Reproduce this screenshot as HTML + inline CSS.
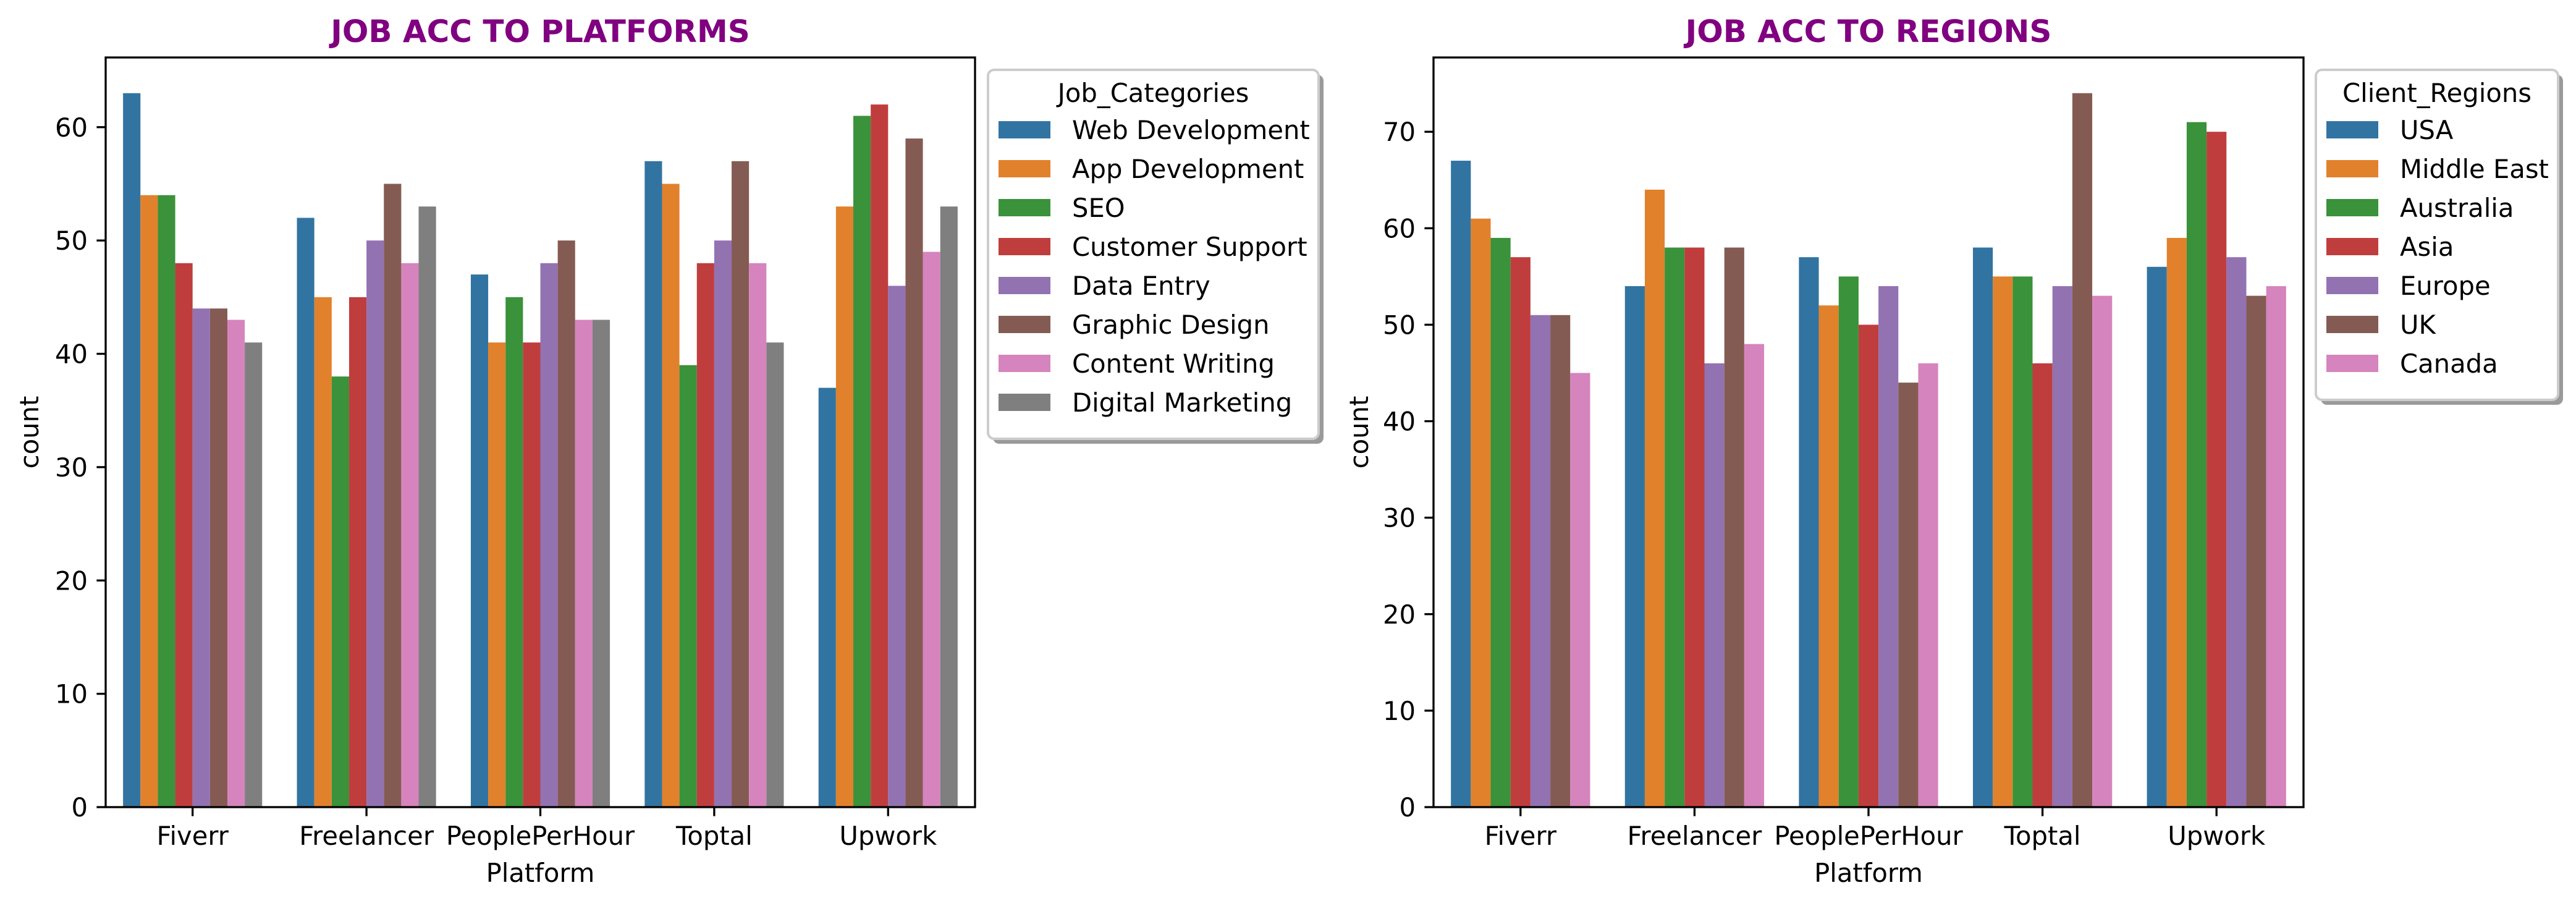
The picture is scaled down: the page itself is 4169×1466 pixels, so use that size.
<!DOCTYPE html>
<html><head><meta charset="utf-8"><style>
html,body{margin:0;padding:0;background:#fff;}
svg{display:block;font-family:"DejaVu Sans","Liberation Sans",sans-serif;}
</style></head><body>
<svg id="fig" width="4169" height="1466" viewBox="0 0 4169 1466" xmlns="http://www.w3.org/2000/svg">
<rect width="4169" height="1466" fill="#fff"/>
</svg>
<script>
const platforms = ["Fiverr","Freelancer","PeoplePerHour","Toptal","Upwork"];
const jobCategories = ["Web Development","App Development","SEO","Customer Support","Data Entry","Graphic Design","Content Writing","Digital Marketing"];
const jobWeb = [63,52,47,57,37];
const jobApp = [54,45,41,55,53];
const jobSEO = [54,38,45,39,61];
const jobSupport = [48,45,41,48,62];
const jobData = [44,50,48,50,46];
const jobGraphic = [44,55,50,57,59];
const jobContent = [43,48,43,48,49];
const jobDigital = [41,53,43,41,53];
const regions = ["USA","Middle East","Australia","Asia","Europe","UK","Canada"];
const regUSA = [67,54,57,58,56];
const regME = [61,64,52,55,59];
const regAus = [59,58,55,55,71];
const regAsia = [57,58,50,46,70];
const regEurope = [51,46,54,54,57];
const regUK = [51,58,44,74,53];
const regCanada = [45,48,46,53,54];
const leftTicks = [0,10,20,30,40,50,60];
const rightTicks = [0,10,20,30,40,50,60,70];
const palette = ["#3274a1","#e1812c","#3a923a","#c03d3e","#9372b2","#845b53","#d684bd","#7f7f7f"];

const NS = "http://www.w3.org/2000/svg";
const svg = document.getElementById("fig");
function mk(tag, attrs, parent){ const e=document.createElementNS(NS,tag); for(const k in attrs) e.setAttribute(k,attrs[k]); (parent||svg).appendChild(e); return e; }

function drawChart(cfg){
  const g = mk("g",{});
  
  
  const L=cfg.x0, R=cfg.x1, T=93, B=1306;
  const xs = v => L + (v+0.5)/5*(R-L);
  const ys = v => B - v/cfg.ymax*(B-T);
  const n = cfg.series.length, bw = 0.8/n;
  cfg.series.forEach((vals,si)=>{
    vals.forEach((v,ci)=>{
      const x0 = xs(ci-0.4+si*bw), x1 = xs(ci-0.4+(si+1)*bw);
      const r = mk("rect",{x:x0,y:ys(v),width:x1-x0,height:ys(0)-ys(v),fill:palette[si]},g);
      
      
    });
  });
  const frame = mk("rect",{x:L,y:T,width:R-L,height:B-T,fill:"none",stroke:"#000","stroke-width":3.3},g);
  
  
  cfg.ticks.forEach(t=>{
    const y=ys(t);
    mk("line",{x1:L-14.6,x2:L,y1:y,y2:y,stroke:"#000","stroke-width":3.3},g);
    const tx = mk("text",{x:L-29,y:y+15,"font-size":41.7,"text-anchor":"end",fill:"#000"},g);
    tx.textContent=t;
    
    
  });
  platforms.forEach((p,i)=>{
    const x=xs(i);
    mk("line",{x1:x,x2:x,y1:B,y2:B+14.6,stroke:"#000","stroke-width":3.3},g);
    const tx = mk("text",{x:x,y:1367,"font-size":41.7,"text-anchor":"middle",fill:"#000"},g);
    tx.textContent=p;
    
    
  });
  const xl = mk("text",{x:(L+R)/2,y:1427,"font-size":41.7,"text-anchor":"middle",fill:"#000"},g);
  xl.textContent="Platform";
  
  
  const yl = mk("text",{x:0,y:0,"font-size":41.7,"text-anchor":"middle",fill:"#000",transform:`translate(${cfg.ylx},${(T+B)/2}) rotate(-90)`},g);
  yl.textContent="count";
  
  
  const tt = mk("text",{x:(L+R)/2,y:68,"font-size":50,"font-weight":"bold","text-anchor":"middle",fill:"#800080"},g);
  tt.textContent=cfg.title;
  
  
  const lg = mk("g",{},g);
  
  
  const lx=cfg.lx0, lw=cfg.lx1-cfg.lx0, ly=113, lh=75+cfg.hues.length*63+18;
  mk("rect",{x:lx+8,y:ly+8,width:lw,height:lh,rx:10,fill:"#9a9a9a"},lg);
  mk("rect",{x:lx,y:ly,width:lw,height:lh,rx:10,fill:"#fff",stroke:"#ccc","stroke-width":4},lg);
  const lt = mk("text",{x:lx+lw/2,y:165,"font-size":41.7,"text-anchor":"middle",fill:"#000"},lg);
  lt.textContent=cfg.legendTitle;
  
  
  cfg.hues.forEach((h,i)=>{
    const y=196+i*63;
    const e = mk("g",{},lg);
    
    
    mk("rect",{x:lx+17,y:y,width:84,height:28,fill:palette[i]},e);
    const t = mk("text",{x:lx+136,y:y+29,"font-size":41.7,fill:"#000"},e);
    t.textContent=h;
  });
}

drawChart({name:"platform-chart",x0:171,x1:1578,ymax:66.15,ticks:leftTicks,ylx:62,
  series:[jobWeb,jobApp,jobSEO,jobSupport,jobData,jobGraphic,jobContent,jobDigital],
  hues:jobCategories,title:"JOB ACC TO PLATFORMS",legendTitle:"Job_Categories",lx0:1599,lx1:2134});
drawChart({name:"region-chart",x0:2320,x1:3728,ymax:77.7,ticks:rightTicks,ylx:2214,
  series:[regUSA,regME,regAus,regAsia,regEurope,regUK,regCanada],
  hues:regions,title:"JOB ACC TO REGIONS",legendTitle:"Client_Regions",lx0:3748,lx1:4140});
</script>
</body></html>
